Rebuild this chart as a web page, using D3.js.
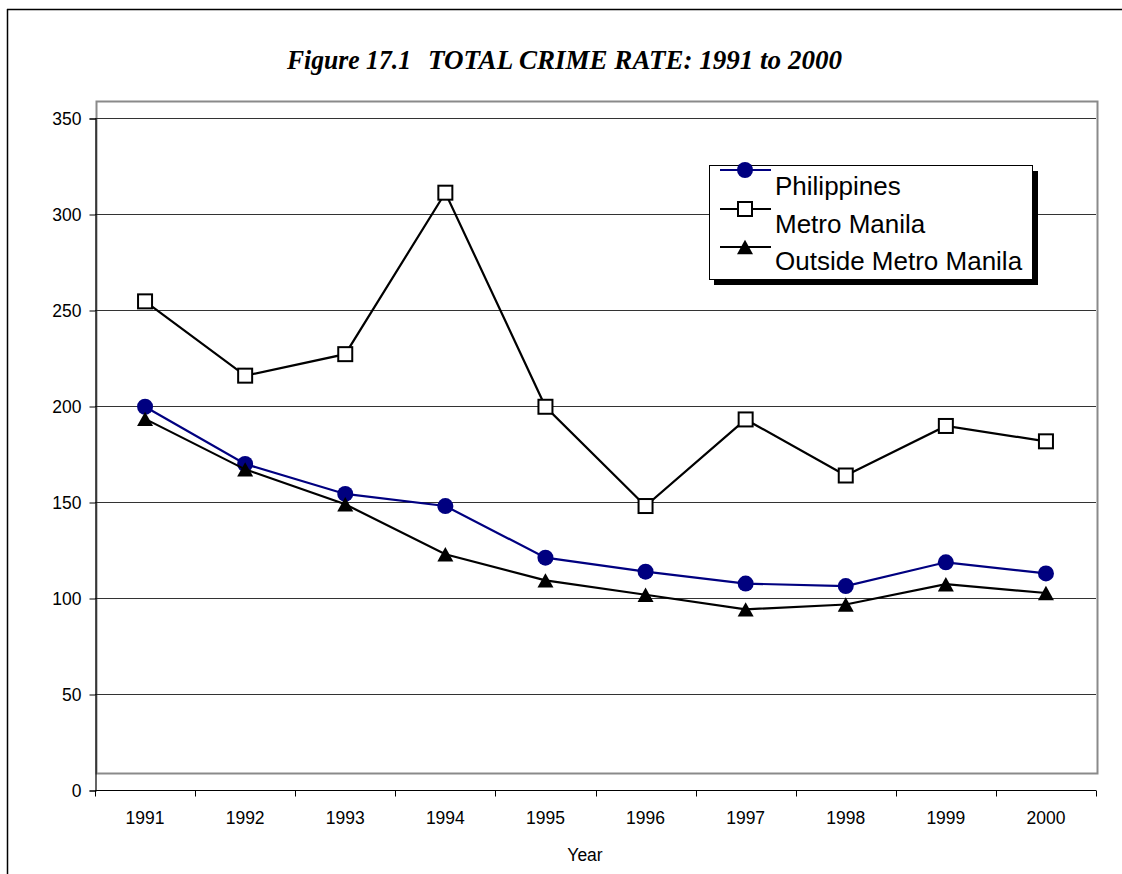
<!DOCTYPE html>
<html>
<head>
<meta charset="utf-8">
<script src="https://cdn.jsdelivr.net/npm/d3@7"></script>
<style>
  html, body { margin: 0; padding: 0; background: #fff; overflow: hidden; }
  svg { display: block; }
  text { font-family: "Liberation Sans", Arial, sans-serif; }
</style>
</head>
<body>
<script>
// ---- Data ----
const years = ["1991","1992","1993","1994","1995","1996","1997","1998","1999","2000"];
const philippines = [199.6, 169.8, 154.2, 147.9, 121.0, 113.7, 107.5, 106.2, 118.6, 112.8];
const metroManila = [254.5, 215.8, 227.0, 311.1, 199.6, 147.9, 193.0, 163.8, 189.6, 181.6];
const outsideMetro = [193.3, 167.0, 148.8, 122.8, 109.2, 101.7, 94.1, 96.6, 107.2, 102.6];
const yTicks = [0, 50, 100, 150, 200, 250, 300, 350];
const seriesNames = ["Philippines", "Metro Manila", "Outside Metro Manila"];
const titleLeft = "Figure 17.1";
const titleRight = "TOTAL CRIME RATE: 1991 to 2000";
const xTitle = "Year";

const W = 1122, H = 874;
const svg = d3.select("body").append("svg").attr("width", W).attr("height", H);

// Outer frame (top and left edges visible)
svg.append("line").attr("x1", 7.5).attr("x2", 7.5).attr("y1", 9).attr("y2", 900)
  .attr("stroke", "#000").attr("stroke-width", 1.5);
svg.append("line").attr("x1", 7).attr("x2", 1200).attr("y1", 9.5).attr("y2", 9.5)
  .attr("stroke", "#000").attr("stroke-width", 1.5);

// Title
svg.append("text").attr("x", 287).attr("y", 69)
  .style("font-family", "'Liberation Serif', serif")
  .attr("font-weight", "bold").attr("font-style", "italic").attr("font-size", 28)
  .attr("textLength", 124).attr("lengthAdjust", "spacingAndGlyphs")
  .text(titleLeft);
svg.append("text").attr("x", 428).attr("y", 69)
  .style("font-family", "'Liberation Serif', serif")
  .attr("font-weight", "bold").attr("font-style", "italic").attr("font-size", 28)
  .attr("textLength", 414).attr("lengthAdjust", "spacingAndGlyphs")
  .text(titleRight);

// Scales
const x = d3.scaleBand().domain(years).range([95, 1096]);
const y = d3.scaleLinear().domain([0, 350]).range([790, 118]);
const cx = d => x(d) + x.bandwidth() / 2;

// Plot area gray border (Excel style offset box)
svg.append("rect").attr("x", 96.5).attr("y", 101.5).attr("width", 1001).attr("height", 672)
  .attr("fill", "#fff").attr("stroke", "#8a8a8a").attr("stroke-width", 2);

// Gridlines
svg.append("g").selectAll("line").data(yTicks.filter(t => t > 0)).join("line")
  .attr("x1", 95).attr("x2", 1096)
  .attr("y1", d => Math.round(y(d)) + 0.5).attr("y2", d => Math.round(y(d)) + 0.5)
  .attr("stroke", "#333").attr("stroke-width", 1);

// Y axis
const yAxis = d3.axisLeft(y).tickValues(yTicks).tickSize(6).tickPadding(8).tickFormat(d3.format("d"));
const gy = svg.append("g").attr("transform", "translate(95.5,0.5)").call(yAxis);
gy.select(".domain").attr("stroke", "#000").attr("stroke-width", 1.2);
gy.selectAll(".tick line").attr("stroke", "#000");
gy.selectAll(".tick text").attr("font-size", 17.5).attr("fill", "#000")
  .style("font-family", "'Liberation Sans', Arial, sans-serif");

// X axis: ticks at category boundaries
const gx = svg.append("g").attr("transform", "translate(0,790.5)");
gx.append("line").attr("x1", 95).attr("x2", 1096).attr("y1", 0).attr("y2", 0)
  .attr("stroke", "#000").attr("stroke-width", 1.2);
const bounds = years.map(d => x(d)).concat([x(years[years.length - 1]) + x.bandwidth()]);
gx.selectAll("line.tk").data(bounds).join("line").attr("class", "tk")
  .attr("x1", d => Math.round(d) + 0.5).attr("x2", d => Math.round(d) + 0.5)
  .attr("y1", 0).attr("y2", 6).attr("stroke", "#000");
gx.selectAll("text").data(years).join("text")
  .attr("x", d => cx(d)).attr("y", 33).attr("text-anchor", "middle")
  .attr("font-size", 17.5).attr("fill", "#000").text(d => d);

// X title
svg.append("text").attr("x", 585).attr("y", 861).attr("text-anchor", "middle")
  .attr("font-size", 17.5).attr("fill", "#000").text(xTitle);

// Series
const line = d3.line().x(d => cx(d.year)).y(d => y(d.v));
const mk = arr => years.map((yr, i) => ({ year: yr, v: arr[i] }));
const sPhil = mk(philippines), sMetro = mk(metroManila), sOut = mk(outsideMetro);

const triPath = (size) => {
  const w = size, h = size * 0.9;
  return `M0,${-h/2} L${w/2},${h/2} L${-w/2},${h/2} Z`;
};

// Philippines
svg.append("path").datum(sPhil).attr("d", line).attr("fill", "none")
  .attr("stroke", "#000080").attr("stroke-width", 2.2);
svg.append("g").selectAll("circle").data(sPhil).join("circle")
  .attr("cx", d => cx(d.year)).attr("cy", d => y(d.v)).attr("r", 8)
  .attr("fill", "#000080");

// Metro Manila
svg.append("path").datum(sMetro).attr("d", line).attr("fill", "none")
  .attr("stroke", "#000").attr("stroke-width", 2.2);
svg.append("g").selectAll("rect").data(sMetro).join("rect")
  .attr("x", d => cx(d.year) - 7).attr("y", d => y(d.v) - 7)
  .attr("width", 14).attr("height", 14)
  .attr("fill", "#fff").attr("stroke", "#000").attr("stroke-width", 2);

// Outside Metro Manila
svg.append("path").datum(sOut).attr("d", line).attr("fill", "none")
  .attr("stroke", "#000").attr("stroke-width", 2.2);
svg.append("g").selectAll("path").data(sOut).join("path")
  .attr("transform", d => `translate(${cx(d.year)},${y(d.v)})`)
  .attr("d", triPath(16)).attr("fill", "#000");

// Legend
const lg = svg.append("g");
lg.append("rect").attr("x", 714).attr("y", 171).attr("width", 324).attr("height", 114).attr("fill", "#000");
lg.append("rect").attr("x", 709.5).attr("y", 165.5).attr("width", 323).attr("height", 114)
  .attr("fill", "#fff").attr("stroke", "#000").attr("stroke-width", 1);
const legY = [170, 209, 247];
const legTextY = [195, 233, 270];
const legColors = ["#000080", "#000", "#000"];
seriesNames.forEach((name, i) => {
  lg.append("line").attr("x1", 720).attr("x2", 771).attr("y1", legY[i]).attr("y2", legY[i])
    .attr("stroke", legColors[i]).attr("stroke-width", 2.2);
  if (i === 0) {
    lg.append("circle").attr("cx", 745).attr("cy", legY[i]).attr("r", 8).attr("fill", "#000080");
  } else if (i === 1) {
    lg.append("rect").attr("x", 738).attr("y", legY[i] - 7).attr("width", 14).attr("height", 14)
      .attr("fill", "#fff").attr("stroke", "#000").attr("stroke-width", 2);
  } else {
    lg.append("path").attr("transform", `translate(745,${legY[i]})`).attr("d", triPath(16)).attr("fill", "#000");
  }
  lg.append("text").attr("x", 775).attr("y", legTextY[i]).attr("font-size", 26)
    .attr("fill", "#000").text(name);
});
</script>
</body>
</html>
